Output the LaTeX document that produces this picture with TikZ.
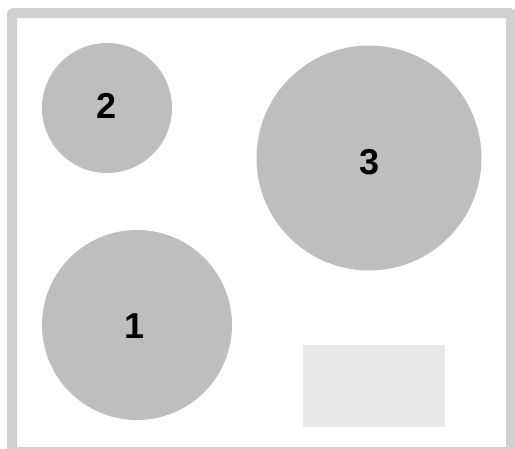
\documentclass[tikz,border=0pt]{standalone}
\usepackage{fontspec}
\setmainfont{Liberation Sans}
\definecolor{frame}{HTML}{D0D0D0}
\definecolor{zone}{HTML}{BEBEBE}
\definecolor{panel}{HTML}{E8E8E8}
\begin{document}
\begin{tikzpicture}[x=1pt,y=-1pt,
  hob/.style={circle,fill=zone,inner sep=0pt,minimum size=#1},
  lbl/.style={inner sep=0pt,font=\fontsize{36}{36}\bfseries\selectfont},
]
\useasboundingbox (0,0) rectangle (515,448);
\begin{scope}
\clip (0,0) rectangle (515,448);
\draw[frame,line width=10pt,rounded corners=2pt] (12,13) rectangle (511,452);
\end{scope}
\node[hob=130pt] (z2) at (107,108) {};
\node[hob=225pt] (z3) at (369,158) {};
\node[hob=190pt] (z1) at (137,325) {};
\node[lbl] (l2) at (107,106) {2};
\node[lbl] (l3) at (369.5,162.5) {3};
\node[lbl] (l1) at (134.5,326) {1};
\node[fill=panel,inner sep=0pt,minimum width=142pt,minimum height=82pt] (p) at (374,386) {};
\end{tikzpicture}
\end{document}
